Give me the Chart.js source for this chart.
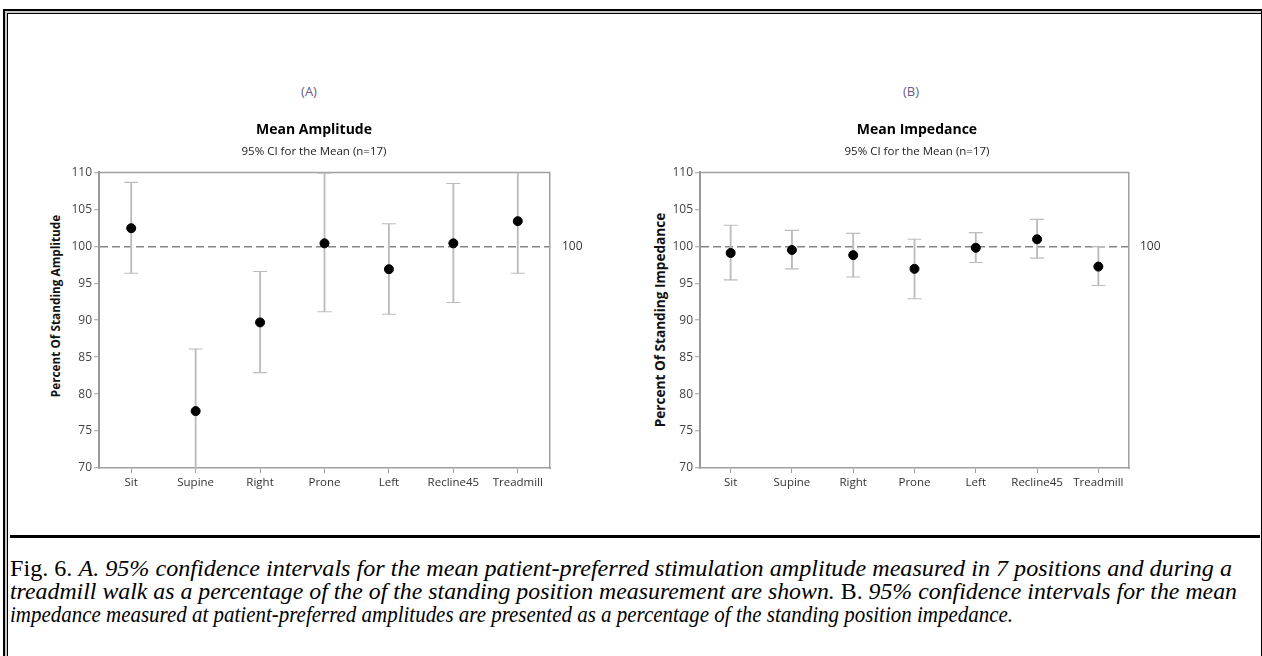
<!DOCTYPE html>
<html>
<head>
<meta charset="utf-8">
<script src="https://cdn.jsdelivr.net/npm/chart.js@4.4.1/dist/chart.umd.min.js"></script>
<style>
  html, body { margin: 0; padding: 0; background: #fff; }
  body { width: 1262px; height: 656px; position: relative; overflow: hidden; }
  .marco { position: absolute; left: 3px; top: 9px; width: 1256px; height: 660px;
           border-top: 2px solid #000; border-left: 2px solid #000; border-right: 2px solid #000;
           background: #c8c8c8; }
  .interior { position: absolute; left: 2px; top: 2px; right: 0; bottom: 0;
              border-top: 1.5px solid #000; border-left: 1.5px solid #000; background: #fff; }
  .separador { position: absolute; left: 10px; top: 535px; width: 1250px; height: 2.5px; background: #000; }
  canvas { position: absolute; }
  .panel { position: absolute; font-family: "Open Sans", sans-serif; font-size: 13px; color: #6a5a82;
           transform: translate(-50%, -50%); white-space: nowrap; }
  .ytitulo { position: absolute; font-family: "Open Sans", sans-serif; font-weight: bold; color: #111;
             transform: translate(-50%, -50%) rotate(-90deg); white-space: nowrap; }
  .pie { position: absolute; left: 10px; top: 557px; font-family: "Liberation Serif", "Times New Roman", serif;
         font-size: 23px; line-height: 23px; color: #000; }
  .pie div { white-space: nowrap; transform-origin: 0 50%; width: max-content; }
</style>
</head>
<body>
<div class="marco"><div class="interior"></div></div>
<div class="separador"></div>

<div class="panel" style="left:309px; top:91px;">(A)</div>
<div class="panel" style="left:911px; top:91px;">(B)</div>
<div class="ytitulo" style="left:55px; top:306px; font-size:11.8px;">Percent Of Standing Amplitude</div>
<div class="ytitulo" style="left:659px; top:320px; font-size:13.6px;">Percent Of Standing Impedance</div>

<canvas id="graficaAmplitud" width="588" height="390" style="left:20px; top:110px;"></canvas>
<canvas id="graficaImpedancia" width="574" height="390" style="left:630px; top:110px;"></canvas>

<div class="pie">
  <div data-ancho="1222">Fig. 6. <i>A. 95% confidence intervals for the mean patient-preferred stimulation amplitude measured in 7 positions and during a</i></div>
  <div data-ancho="1227"><i>treadmill walk as a percentage of the of the standing position measurement are shown. </i>B. <i>95% confidence intervals for the mean</i></div>
  <div data-ancho="1003"><i>impedance measured at patient-preferred amplitudes are presented as a percentage of the standing position impedance.</i></div>
</div>

<script>
const posiciones = ['Sit', 'Supine', 'Right', 'Prone', 'Left', 'Recline45', 'Treadmill'];
const ticksY = [70, 75, 80, 85, 90, 95, 100, 105, 110];
const referencia = 100;

// (A) amplitud, % de la posicion de pie
const ampMedia = [102.45, 77.7, 89.7, 100.4, 96.9, 100.4, 103.4];
const ampInferior = [96.35, 69.3, 82.9, 91.15, 90.8, 92.4, 96.35];
const ampSuperior = [108.65, 86.1, 96.6, 109.9, 103.05, 108.5, 110.5];

// (B) impedancia
const impMedia = [99.1, 99.5, 98.8, 96.95, 99.8, 100.95, 97.25];
const impInferior = [95.45, 96.95, 95.85, 92.9, 97.8, 98.4, 94.7];
const impSuperior = [102.85, 102.15, 101.75, 100.95, 101.85, 103.65, 99.95];

const grisBarra = '#bcbcbc';
const grisEje = '#a0a0a0';
const fuente = '"Open Sans", sans-serif';

const marcoPlugin = {
    id: 'marcoPlot',
    beforeDatasetsDraw(chart) {
        const a = chart.chartArea;
        const ctx = chart.ctx;
        ctx.save();
        ctx.strokeStyle = grisEje;
        ctx.lineWidth = 1.5;
        ctx.beginPath();
        ctx.moveTo(a.left, a.top);
        ctx.lineTo(a.right, a.top);
        ctx.stroke();
        ctx.restore();
    }
};

function crearGrafica(id, cfg) {
    const ctx = document.getElementById(id).getContext('2d');
    return new Chart(ctx, {
        type: 'bar',
        data: {
            labels: posiciones,
            datasets: [
                {
                    type: 'line',
                    data: cfg.media,
                    showLine: false,
                    pointStyle: 'circle',
                    pointRadius: 4.5,
                    pointBackgroundColor: '#000',
                    pointBorderColor: '#000',
                    order: 0
                },
                {
                    type: 'line',
                    data: cfg.superior,
                    showLine: false,
                    pointStyle: 'line',
                    pointRadius: 7,
                    pointBorderColor: grisBarra,
                    pointBorderWidth: 1.1,
                    order: 1
                },
                {
                    type: 'line',
                    data: cfg.inferior,
                    showLine: false,
                    pointStyle: 'line',
                    pointRadius: 7,
                    pointBorderColor: grisBarra,
                    pointBorderWidth: 1.1,
                    order: 1
                },
                {
                    data: cfg.inferior.map((v, i) => [v, cfg.superior[i]]),
                    backgroundColor: grisBarra,
                    barThickness: 1.2,
                    order: 2
                }
            ]
        },
        options: {
            responsive: false,
            animation: false,
            events: [],
            layout: { padding: 0 },
            plugins: {
                legend: { display: false },
                tooltip: { enabled: false },
                title: {
                    display: true,
                    text: cfg.titulo,
                    color: '#000',
                    font: { family: fuente, size: 14, weight: 'bold' },
                    padding: { top: 11.6, bottom: 6.4 }
                },
                subtitle: {
                    display: true,
                    text: '95% CI for the Mean (n=17)',
                    color: '#222',
                    font: { family: fuente, size: 11.5 },
                    padding: { top: 0, bottom: 13.8 }
                }
            },
            scales: {
                x: {
                    offset: true,
                    grid: { offset: false, drawOnChartArea: false, color: grisEje, tickLength: 5 },
                    border: { color: grisEje, width: 1.5 },
                    ticks: { color: '#333', font: { family: fuente, size: 11.5 }, padding: 3, maxRotation: 0, autoSkip: false },
                    afterFit: s => { s.height = 32; }
                },
                y: {
                    min: 70,
                    max: 110,
                    afterBuildTicks: s => { s.ticks = ticksY.map(v => ({ value: v })); },
                    grid: {
                        color: c => c.tick && c.tick.value === referencia ? '#858585' : 'rgba(0,0,0,0)',
                        lineWidth: 1.5,
                        tickColor: grisEje,
                        tickWidth: 1,
                        tickLength: 5
                    },
                    border: { color: '#999', width: 2, dash: [8, 4] },
                    ticks: { color: '#444', font: { family: fuente, size: 12 }, padding: cfg.padY },
                    afterFit: s => { s.width = cfg.anchoY; }
                },
                yr: {
                    position: 'right',
                    min: 70,
                    max: 110,
                    afterBuildTicks: s => { s.ticks = [{ value: referencia }]; },
                    grid: { display: false, drawTicks: false },
                    border: { color: grisEje, width: 1.5 },
                    ticks: { color: '#333', font: { family: fuente, size: 12 }, padding: cfg.padR },
                    afterFit: s => { s.width = cfg.anchoR; }
                }
            }
        },
        plugins: [marcoPlugin]
    });
}

crearGrafica('graficaAmplitud', {
    titulo: 'Mean Amplitude',
    media: ampMedia, inferior: ampInferior, superior: ampSuperior,
    anchoY: 79, anchoR: 58, padY: 2, padR: 12
});
crearGrafica('graficaImpedancia', {
    titulo: 'Mean Impedance',
    media: impMedia, inferior: impInferior, superior: impSuperior,
    anchoY: 70, anchoR: 75, padY: 2, padR: 11
});

// cada linea del pie de figura termina donde en el original
document.querySelectorAll('.pie div').forEach(linea => {
    const objetivo = Number(linea.dataset.ancho);
    const actual = linea.getBoundingClientRect().width;
    if (actual > 0) linea.style.transform = `scaleX(${objetivo / actual})`;
});
</script>
</body>
</html>
